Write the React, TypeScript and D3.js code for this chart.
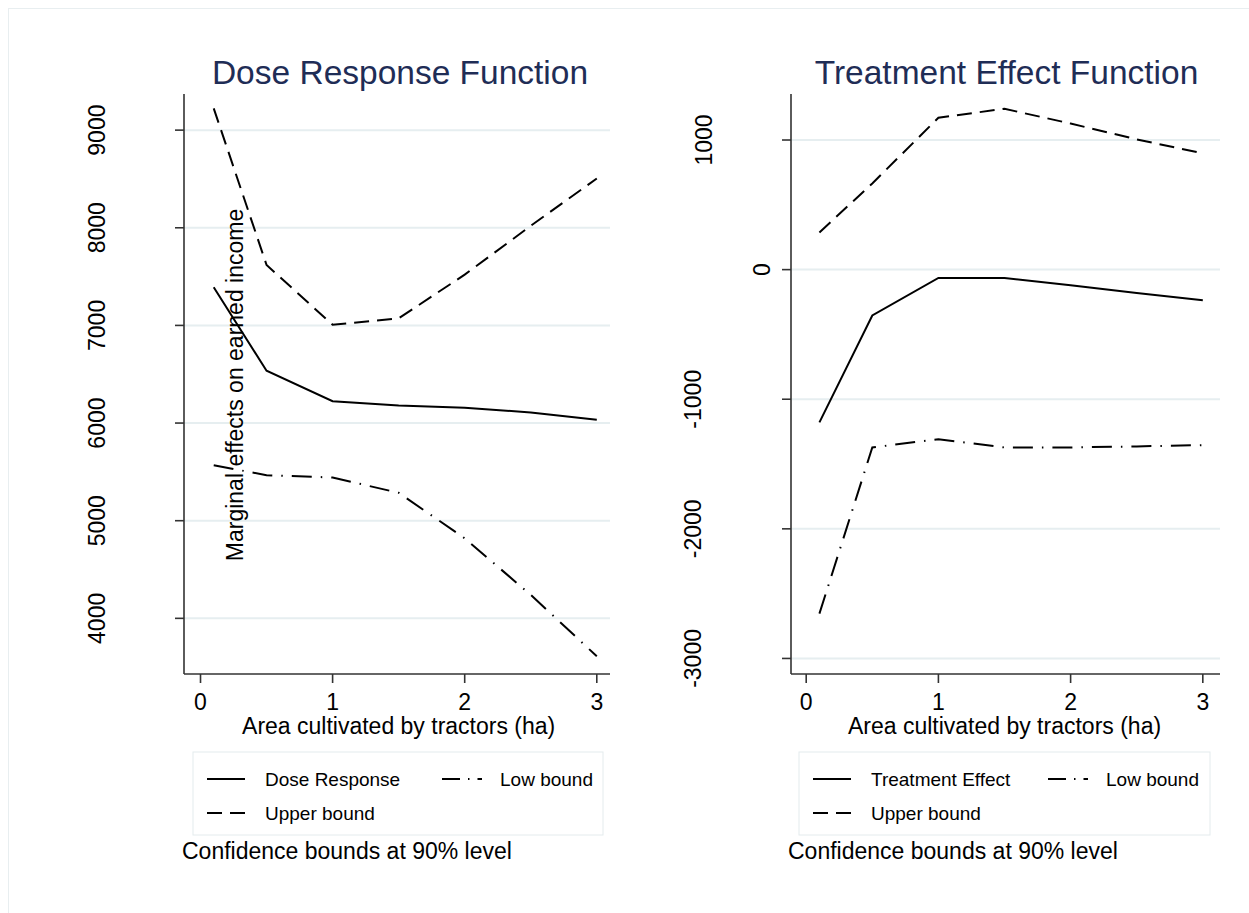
import React from "react";
import * as d3 from "d3";

// x positions (ha) where the functions were evaluated
const areaPoints = [0.1, 0.5, 1, 1.5, 2, 2.5, 3];

// Dose response panel
const doseResponse = [7390, 6536, 6224, 6180, 6156, 6109, 6034];
const doseUpper = [9223, 7619, 7007, 7072, 7520, 8020, 8505];
const doseLower = [5568, 5466, 5442, 5286, 4820, 4240, 3612];
const doseTicks = [4000, 5000, 6000, 7000, 8000, 9000];

// Treatment effect panel
const treatEffect = [-1179, -354, -64, -64, -120, -180, -236];
const treatUpper = [287, 665, 1172, 1241, 1127, 1005, 897];
const treatLower = [-2654, -1372, -1308, -1372, -1372, -1364, -1354];
const treatTicks = [-3000, -2000, -1000, 0, 1000];

const xTicks = [0, 1, 2, 3];
const xTitle = "Area cultivated by tractors (ha)";
const noteText = "Confidence bounds at 90% level";

const FONT = "'Liberation Sans', Arial, sans-serif";
const GRID = "#e6eef0";
const AXIS = "#333";
const TITLE = "#1f2d56";
const DASH = "15,8";
const DASHDOT = "20,9,1.5,9";

// rough Arial width, used to push rotated labels away like Stata does
const textW = (s: string, fs: number) =>
  s.split("").reduce((a, c) => a + (c === "-" ? 0.333 : 0.556), 0) * fs;

interface PanelProps {
  left: number;
  right: number;
  top: number;
  bottom: number;
  xDomain: [number, number];
  yDomain: [number, number];
  yTicks: number[];
  title: string;
  mainLabel: string;
  mid: number[];
  upper: number[];
  lower: number[];
  legendLeft: number;
  legendRight: number;
  yTitle?: string;
}

function Panel(p: PanelProps) {
  const x = d3.scaleLinear().domain(p.xDomain).range([p.left, p.right]);
  const y = d3.scaleLinear().domain(p.yDomain).range([p.bottom, p.top]);
  const line = d3
    .line<number>()
    .x((_, i) => x(areaPoints[i]))
    .y((d) => y(d));
  const fs = 23;
  const lgTop = 752;
  const lgH = 83;
  const row1 = 779;
  const row2 = 813;
  const lx = p.legendLeft + 14;
  const lx2 = p.legendLeft + 249;

  return (
    <g>
      <text
        x={(p.legendLeft + p.legendRight) / 2 + 2}
        y={84}
        textAnchor="middle"
        fontSize={33.5}
        fill={TITLE}
        fontFamily={FONT}
      >
        {p.title}
      </text>
      {p.yTicks.map((t) => (
        <line
          key={"g" + t}
          x1={p.left}
          x2={p.right}
          y1={y(t)}
          y2={y(t)}
          stroke={GRID}
          strokeWidth={2}
        />
      ))}
      {/* y axis */}
      <line x1={p.left} x2={p.left} y1={p.top} y2={p.bottom} stroke={AXIS} strokeWidth={1.6} />
      {p.yTicks.map((t) => {
        const lab = String(t);
        const gx = p.left - (10 + 1.5 * textW(lab, fs));
        return (
          <g key={"t" + t}>
            <line x1={p.left - 9} x2={p.left} y1={y(t)} y2={y(t)} stroke={AXIS} strokeWidth={1.6} />
            <text
              transform={`translate(${gx + 8},${y(t)}) rotate(-90)`}
              textAnchor="middle"
              fontSize={fs}
              fontFamily={FONT}
              fill="#000"
            >
              {lab}
            </text>
          </g>
        );
      })}
      {/* x axis */}
      <line x1={p.left} x2={p.right} y1={p.bottom} y2={p.bottom} stroke={AXIS} strokeWidth={1.6} />
      {xTicks.map((t) => (
        <g key={"x" + t}>
          <line x1={x(t)} x2={x(t)} y1={p.bottom} y2={p.bottom + 9} stroke={AXIS} strokeWidth={1.6} />
          <text x={x(t)} y={710} textAnchor="middle" fontSize={fs} fontFamily={FONT}>
            {t}
          </text>
        </g>
      ))}
      <text x={(x(0) + x(3)) / 2} y={734} textAnchor="middle" fontSize={fs} fontFamily={FONT}>
        {xTitle}
      </text>
      {p.yTitle && (
        <text
          transform={`translate(243,385) rotate(-90)`}
          textAnchor="middle"
          fontSize={fs}
          fontFamily={FONT}
        >
          {p.yTitle}
        </text>
      )}
      {/* series */}
      <path d={line(p.mid) || ""} fill="none" stroke="#000" strokeWidth={2} />
      <path d={line(p.upper) || ""} fill="none" stroke="#000" strokeWidth={2} strokeDasharray={DASH} />
      <path d={line(p.lower) || ""} fill="none" stroke="#000" strokeWidth={2} strokeDasharray={DASHDOT} />

      {/* legend */}
      <rect
        x={p.legendLeft}
        y={lgTop}
        width={p.legendRight - p.legendLeft}
        height={lgH}
        fill="#fff"
        stroke="#e4ebed"
        strokeWidth={1}
      />
      <line x1={lx} x2={lx + 38} y1={row1} y2={row1} stroke="#000" strokeWidth={2} />
      <text x={lx + 58} y={row1 + 7} fontSize={19} fontFamily={FONT}>
        {p.mainLabel}
      </text>
      <line x1={lx2} x2={lx2 + 40} y1={row1} y2={row1} stroke="#000" strokeWidth={2} strokeDasharray="18,8,1.5,8" />
      <text x={lx2 + 58} y={row1 + 7} fontSize={19} fontFamily={FONT}>
        Low bound
      </text>
      <line x1={lx} x2={lx + 38} y1={row2} y2={row2} stroke="#000" strokeWidth={2} strokeDasharray="15,8" />
      <text x={lx + 58} y={row2 + 7} fontSize={19} fontFamily={FONT}>
        Upper bound
      </text>
      <text x={p.legendLeft - 11} y={859} fontSize={fs} fontFamily={FONT}>
        {noteText}
      </text>
    </g>
  );
}

export default function App() {
  return (
    <svg
      width={1249}
      height={913}
      style={{ position: "absolute", left: 0, top: 0, background: "#fff" }}
    >
      <rect x={0} y={0} width={1249} height={913} fill="#fff" />
      <rect x={8.5} y={8.5} width={1400} height={1100} fill="none" stroke="#e8eef0" strokeWidth={1} />
      <Panel
        left={184}
        right={610}
        top={94}
        bottom={674}
        xDomain={[-0.125, 3.1]}
        yDomain={[3430, 9370]}
        yTicks={doseTicks}
        title="Dose Response Function"
        mainLabel="Dose Response"
        mid={doseResponse}
        upper={doseUpper}
        lower={doseLower}
        legendLeft={193}
        legendRight={603}
        yTitle="Marginal effects on earned income"
      />
      <Panel
        left={791}
        right={1220}
        top={94}
        bottom={674}
        xDomain={[-0.115, 3.13]}
        yDomain={[-3120, 1355]}
        yTicks={treatTicks}
        title="Treatment Effect Function"
        mainLabel="Treatment Effect"
        mid={treatEffect}
        upper={treatUpper}
        lower={treatLower}
        legendLeft={799}
        legendRight={1210}
      />
    </svg>
  );
}
